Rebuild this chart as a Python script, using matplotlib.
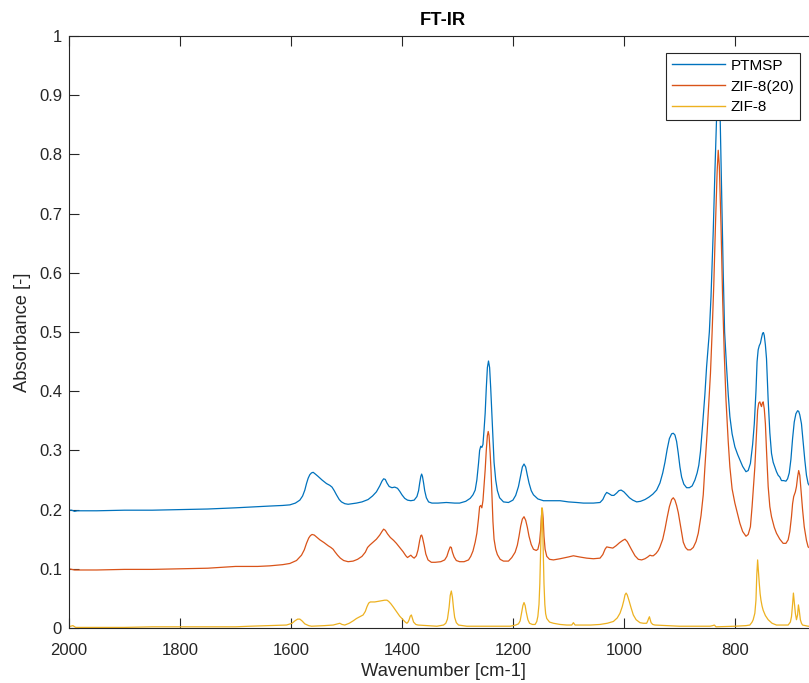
import matplotlib
matplotlib.use("Agg")
import matplotlib.pyplot as plt
from matplotlib.ticker import MultipleLocator, FormatStrFormatter

plt.rcParams['font.family'] = ['Liberation Sans', 'DejaVu Sans']

# ---------------- data ----------------
series_names = ["PTMSP", "ZIF-8(20)", "ZIF-8"]
series_colors = ["#0072BD", "#D95319", "#EDB120"]

wn_ptmsp = [2000, 1995, 1990, 1985, 1950, 1900, 1850, 1800, 1750, 1700, 1660, 1638, 1615, 1602, 1592,
            1584, 1579, 1575, 1572, 1569, 1566, 1563, 1560, 1556, 1551, 1544, 1536, 1530, 1526,
            1522, 1518, 1513, 1509, 1503, 1497, 1490, 1482, 1472, 1461, 1453, 1446, 1440, 1436,
            1433, 1430, 1427, 1423, 1418, 1413, 1408, 1404, 1400, 1395, 1390, 1384, 1378, 1373,
            1370, 1368, 1366, 1364.5, 1363, 1361, 1359, 1356, 1352, 1346, 1335, 1320, 1305, 1296,
            1285, 1277, 1272, 1268, 1265, 1262, 1260, 1258, 1256, 1254, 1252, 1250, 1248, 1246,
            1244, 1242, 1240, 1238, 1236, 1234, 1231, 1228, 1224, 1217, 1208, 1200, 1195, 1190,
            1186, 1183, 1180, 1177, 1174, 1171, 1167, 1163, 1155, 1145, 1130, 1115, 1100, 1085,
            1073, 1055, 1043, 1038, 1034, 1031, 1027, 1022, 1018, 1013, 1009, 1005, 1000, 995,
            990, 984, 977, 970, 962, 955, 948, 941, 935, 930, 926, 922, 918, 914, 911, 908, 905,
            902, 899, 896, 892, 887, 882, 877, 872, 868, 865, 862, 858, 854, 851, 846, 843, 839,
            836, 833, 830, 826.5, 823.5, 821, 818.5, 815, 812, 809, 805, 800, 795, 791, 786, 780,
            776, 772, 768, 765, 762, 760, 758, 756, 754, 752, 750, 748.5, 747, 745, 743, 740, 737,
            734, 731, 728, 725, 722, 719, 716, 712, 708, 705, 702, 699, 696, 693, 690, 687, 685,
            683, 680, 677, 674, 671, 668, 666, 660]
abs_ptmsp = [0.199, 0.199, 0.197, 0.198, 0.198, 0.199, 0.199, 0.200, 0.201, 0.203, 0.205, 0.206, 0.207, 0.208, 0.211,
             0.216, 0.223, 0.233, 0.244, 0.253, 0.259, 0.262, 0.263, 0.260, 0.256, 0.250, 0.244, 0.241, 0.238,
             0.232, 0.225, 0.217, 0.213, 0.210, 0.209, 0.210, 0.211, 0.213, 0.217, 0.223, 0.230, 0.240, 0.248,
             0.252, 0.251, 0.245, 0.239, 0.237, 0.238, 0.236, 0.231, 0.225, 0.219, 0.216, 0.215, 0.216, 0.222,
             0.232, 0.245, 0.256, 0.260, 0.256, 0.245, 0.232, 0.220, 0.213, 0.211, 0.211, 0.212, 0.211, 0.211,
             0.214, 0.219, 0.225, 0.233, 0.250, 0.278, 0.300, 0.307, 0.305, 0.310, 0.335, 0.363, 0.405, 0.440,
             0.451, 0.440, 0.405, 0.363, 0.318, 0.280, 0.250, 0.232, 0.220, 0.213, 0.212, 0.216, 0.224, 0.239,
             0.258, 0.272, 0.277, 0.272, 0.258, 0.245, 0.232, 0.225, 0.218, 0.215, 0.215, 0.215, 0.213, 0.212,
             0.211, 0.211, 0.212, 0.217, 0.225, 0.229, 0.227, 0.224, 0.224, 0.228, 0.232, 0.233, 0.230, 0.225,
             0.220, 0.216, 0.213, 0.214, 0.217, 0.221, 0.226, 0.233, 0.245, 0.262, 0.280, 0.302, 0.320, 0.328, 0.329, 0.326, 0.315,
             0.295, 0.272, 0.255, 0.243, 0.237, 0.237, 0.240, 0.250, 0.262, 0.275, 0.298, 0.345, 0.395, 0.441, 0.500, 0.560, 0.670,
             0.770, 0.861, 0.930, 0.861, 0.720, 0.600, 0.500, 0.441, 0.395, 0.357, 0.328, 0.306, 0.293, 0.284, 0.273, 0.264,
             0.266, 0.278, 0.310, 0.345, 0.400, 0.450, 0.470, 0.477, 0.481, 0.490, 0.498, 0.499, 0.494, 0.478, 0.455, 0.385, 0.330,
             0.295, 0.280, 0.272, 0.264, 0.258, 0.255, 0.249, 0.249, 0.248, 0.252, 0.262, 0.285, 0.320, 0.348, 0.362, 0.367, 0.366,
             0.360, 0.345, 0.315, 0.284, 0.258, 0.244, 0.241, 0.241]

wn_zif20 = [2000, 1995, 1990, 1950, 1900, 1850, 1800, 1750, 1700, 1660, 1638, 1615, 1602, 1590, 1581,
            1576, 1572, 1568, 1565, 1562, 1558, 1553, 1548, 1540, 1533, 1528, 1524, 1521, 1516,
            1511, 1505, 1497, 1488, 1480, 1472, 1466, 1462, 1458, 1452, 1446, 1440, 1436, 1433,
            1430, 1426, 1421, 1415, 1410, 1404, 1398, 1393, 1390, 1387, 1384, 1381, 1378, 1374,
            1371, 1368, 1366, 1364.5, 1363, 1360, 1357, 1353, 1347, 1340, 1330, 1323, 1319, 1316,
            1313, 1311, 1309, 1306, 1302, 1296, 1288, 1280, 1276, 1272, 1268, 1265, 1262, 1260,
            1258, 1256, 1254, 1252, 1250, 1248, 1246, 1244.5, 1243, 1241, 1239.5, 1238, 1236, 1234,
            1231, 1228, 1223, 1217, 1208, 1202, 1196, 1192, 1189, 1186, 1183, 1180, 1177, 1174,
            1171, 1167, 1163, 1158, 1155, 1152, 1150, 1148.5, 1147, 1145.5, 1144, 1142, 1139, 1134,
            1127, 1115, 1100, 1091, 1080, 1067, 1055, 1043, 1038, 1034, 1031, 1026, 1020, 1014,
            1008, 1002, 998, 994, 990, 986, 980, 974, 968, 962, 957, 953, 950, 947, 942, 938, 935,
            930, 926, 922, 918, 914, 911, 908, 905, 902, 899, 896, 893, 889, 885, 880, 875, 870,
            866, 861, 857, 854, 850, 847, 844, 841, 838, 835, 832, 830, 828, 825, 822, 819, 816,
            812, 809, 805, 800, 795, 791, 786, 780, 776, 772, 769, 766, 764, 761, 759, 757, 755,
            753, 752, 750.5, 749, 747, 745, 743, 740, 737, 734, 729, 725, 719, 713, 708, 704, 701,
            698, 696, 694, 691, 689, 687, 685, 683, 681, 678, 675, 671, 668, 665, 660]
abs_zif20 = [0.100, 0.099, 0.098, 0.098, 0.099, 0.099, 0.100, 0.101, 0.104, 0.104, 0.105, 0.107, 0.109, 0.114, 0.123,
             0.132, 0.143, 0.152, 0.156, 0.158, 0.157, 0.153, 0.149, 0.144, 0.139, 0.136, 0.133, 0.129, 0.123,
             0.118, 0.114, 0.112, 0.113, 0.116, 0.121, 0.128, 0.136, 0.140, 0.145, 0.150, 0.157, 0.163, 0.167,
             0.165, 0.159, 0.153, 0.148, 0.143, 0.136, 0.129, 0.122, 0.119, 0.121, 0.123, 0.120, 0.118, 0.122,
             0.132, 0.148, 0.156, 0.157, 0.153, 0.140, 0.125, 0.115, 0.111, 0.111, 0.112, 0.115, 0.121, 0.130,
             0.137, 0.136, 0.128, 0.120, 0.114, 0.112, 0.112, 0.115, 0.121, 0.130, 0.145, 0.160, 0.185, 0.205,
             0.207, 0.203, 0.215, 0.240, 0.267, 0.300, 0.325, 0.332, 0.325, 0.295, 0.267, 0.230, 0.180, 0.150,
             0.133, 0.124, 0.116, 0.113, 0.113, 0.119, 0.128, 0.140, 0.155, 0.172, 0.184, 0.188, 0.182, 0.170,
             0.155, 0.141, 0.133, 0.131, 0.133, 0.145, 0.166, 0.190, 0.202, 0.185, 0.155, 0.133, 0.121, 0.116,
             0.115, 0.117, 0.120, 0.122, 0.120, 0.118, 0.117, 0.118, 0.124, 0.133, 0.137, 0.136, 0.135, 0.139,
             0.144, 0.148, 0.150, 0.146, 0.139, 0.132, 0.122, 0.116, 0.115, 0.117, 0.120, 0.123, 0.122, 0.122, 0.126, 0.131, 0.137,
             0.150, 0.167, 0.187, 0.205, 0.217, 0.220, 0.216, 0.207, 0.195, 0.178, 0.160, 0.145, 0.136, 0.132, 0.132, 0.136, 0.146,
             0.160, 0.190, 0.225, 0.272, 0.330, 0.380, 0.430, 0.500, 0.580, 0.680, 0.770, 0.807, 0.780, 0.680, 0.554, 0.460, 0.385,
             0.315, 0.272, 0.235, 0.211, 0.192, 0.177, 0.163, 0.155, 0.158, 0.171, 0.205, 0.245, 0.272, 0.330, 0.368, 0.380, 0.382,
             0.376, 0.374, 0.380, 0.382, 0.370, 0.345, 0.300, 0.239, 0.205, 0.188, 0.170, 0.160, 0.150, 0.143, 0.143, 0.149, 0.163,
             0.188, 0.210, 0.222, 0.230, 0.239, 0.255, 0.266, 0.258, 0.235, 0.200, 0.171, 0.148, 0.137, 0.135, 0.135]

wn_zif8 = [2000, 1997, 1993, 1988, 1950, 1900, 1850, 1800, 1750, 1700, 1674, 1640, 1608, 1598, 1593,
           1588, 1584, 1580, 1575, 1568, 1563, 1540, 1524, 1516, 1512, 1508, 1503, 1495, 1488, 1482,
           1476, 1470, 1466, 1463, 1460, 1457, 1449, 1443, 1437, 1431, 1427, 1424, 1420, 1416, 1410,
           1404, 1398, 1394, 1391, 1389, 1387, 1385, 1383, 1381, 1379, 1375, 1371, 1355, 1337, 1325,
           1321, 1318, 1315, 1313, 1311, 1309, 1307, 1305, 1302, 1298, 1283, 1240, 1205, 1195, 1190,
           1187, 1184, 1182, 1180, 1178, 1176, 1173, 1170, 1165, 1160, 1157, 1155, 1153, 1151.5, 1150,
           1148.8, 1147.7, 1146.6, 1145.3, 1144, 1142.5, 1141, 1139, 1134, 1127, 1115, 1103, 1094, 1091,
           1088, 1060, 1043, 1030, 1019, 1012, 1007, 1003, 1000, 998, 996, 994, 991, 987, 983, 978,
           971, 965, 959, 957, 955.5, 954, 952.5, 951, 948, 944, 920, 900, 863, 845, 840, 837, 834,
           800, 780, 773, 769, 767, 764, 762, 760.5, 759, 757.5, 756, 754.5, 753, 751, 749, 745, 740,
           733, 725, 704, 700, 698, 696, 694.5, 693, 691, 689, 687, 685.5, 684, 682, 680, 678, 668, 660]
abs_zif8 = [0.002, 0.003, 0.004, 0.001, 0.001, 0.001, 0.002, 0.002, 0.002, 0.002, 0.003, 0.004, 0.005, 0.008, 0.012,
            0.015, 0.015, 0.012, 0.007, 0.004, 0.003, 0.004, 0.005, 0.007, 0.008, 0.006, 0.005, 0.008, 0.012, 0.016,
            0.019, 0.022, 0.028, 0.036, 0.042, 0.044, 0.044, 0.045, 0.046, 0.047, 0.047, 0.045, 0.041, 0.036, 0.028,
            0.020, 0.014, 0.010, 0.008, 0.010, 0.014, 0.020, 0.022, 0.016, 0.010, 0.006, 0.005, 0.004, 0.003, 0.005,
            0.008, 0.015, 0.035, 0.055, 0.0625, 0.052, 0.033, 0.018, 0.009, 0.005, 0.003, 0.003, 0.003, 0.005, 0.007,
            0.012, 0.027, 0.038, 0.043, 0.038, 0.027, 0.014, 0.008, 0.006, 0.006, 0.011, 0.020, 0.040, 0.075, 0.130,
            0.180, 0.203, 0.180, 0.130, 0.075, 0.040, 0.024, 0.016, 0.010, 0.008, 0.006, 0.005, 0.005, 0.009,
            0.005, 0.005, 0.006, 0.008, 0.011, 0.017, 0.025, 0.036, 0.047, 0.056, 0.059, 0.056, 0.047, 0.034, 0.022, 0.014,
            0.009, 0.008, 0.008, 0.012, 0.016, 0.019, 0.014, 0.009, 0.006, 0.005, 0.004, 0.003, 0.003, 0.003, 0.004, 0.005, 0.002,
            0.003, 0.004, 0.005, 0.010, 0.014, 0.025, 0.047, 0.090, 0.115, 0.095, 0.075, 0.058, 0.047, 0.037, 0.030, 0.021, 0.014,
            0.008, 0.005, 0.005, 0.010, 0.019, 0.040, 0.059, 0.045, 0.025, 0.014, 0.022, 0.039, 0.030, 0.014, 0.008, 0.005, 0.003, 0.003]

x_ticks_step = 200
y_ticks_step = 0.1

# ---------------- figure ----------------
W, H = 809, 683
fig = plt.figure(figsize=(W / 100, H / 100), dpi=100)
left_px, right_px, top_px, bottom_px = 69, 817, 36, 628
ax = fig.add_axes([left_px / W, 1 - bottom_px / H, (right_px - left_px) / W, (bottom_px - top_px) / H])

for wn, a, name, col in zip([wn_ptmsp, wn_zif20, wn_zif8],
                            [abs_ptmsp, abs_zif20, abs_zif8],
                            series_names, series_colors):
    ax.plot(wn, a, color=col, lw=0.9, label=name, solid_joinstyle='round')

ax.set_xlim(2000, 652)
ax.set_ylim(0, 1)
ax.xaxis.set_major_locator(MultipleLocator(x_ticks_step))
ax.yaxis.set_major_locator(MultipleLocator(y_ticks_step))
ax.yaxis.set_major_formatter(FormatStrFormatter('%g'))

dark = '#262626'
for s in ax.spines.values():
    s.set_color(dark)
    s.set_linewidth(0.8)
ax.tick_params(direction='in', length=7.5, width=0.8, color=dark, labelcolor=dark,
               labelsize=12, top=True, right=False)
ax.tick_params(axis='x', pad=10.5)
ax.tick_params(axis='y', pad=5)

ax.set_xlabel('Wavenumber [cm-1]', fontsize=13.2, color=dark, labelpad=4)
ax.set_ylabel('Absorbance [-]', fontsize=13.2, color=dark, labelpad=6)
ax.set_title('FT-IR', fontsize=13.2, fontweight='bold', color='black', pad=8)

leg = ax.legend(loc='upper left', bbox_to_anchor=(666 / W, 1 - 53 / H),
                bbox_transform=fig.transFigure, borderaxespad=0,
                fontsize=11, frameon=True, fancybox=False, framealpha=1,
                edgecolor=dark, borderpad=0.38, handletextpad=0.35,
                labelspacing=0.44, handlelength=3.5)
leg.get_frame().set_linewidth(0.8)
for line in leg.get_lines():
    line.set_linewidth(1.0)

fig.savefig('out.png', dpi=100)
